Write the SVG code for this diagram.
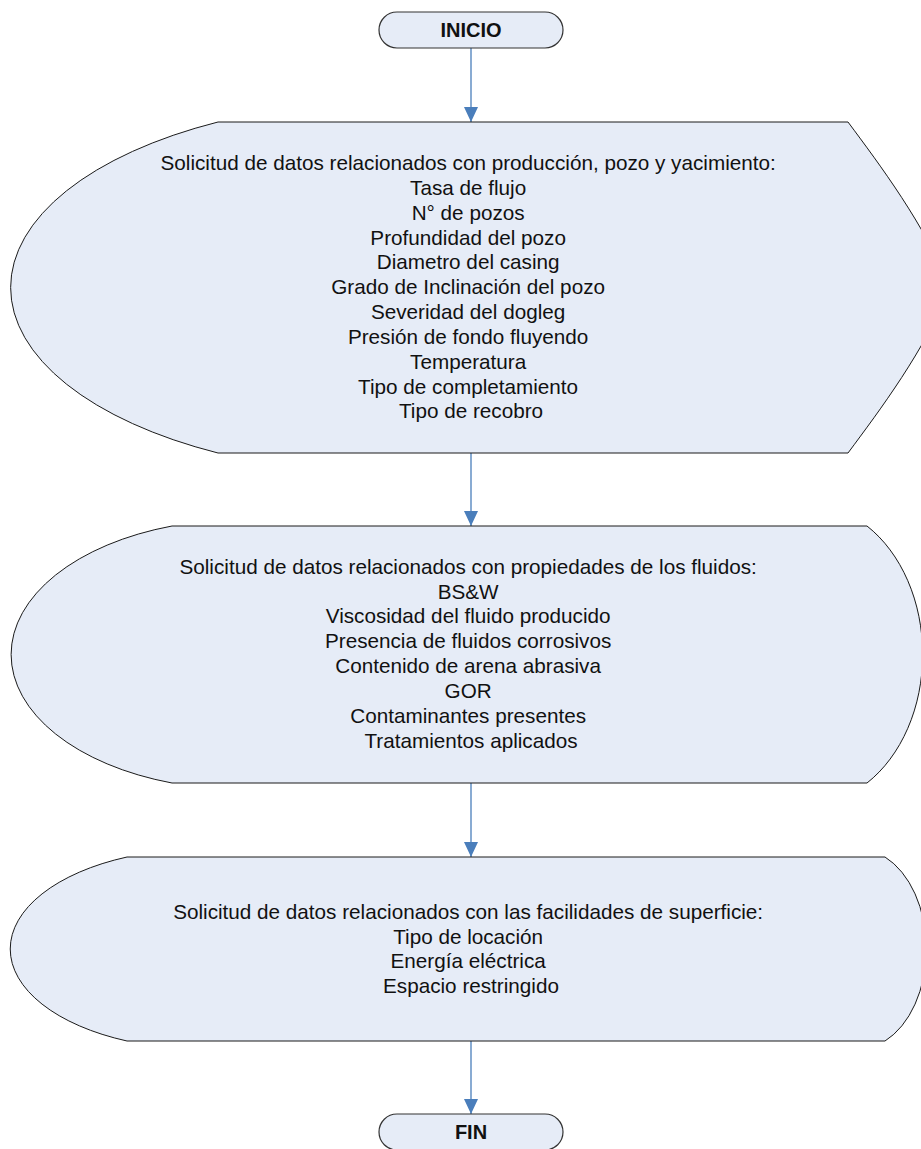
<svg xmlns="http://www.w3.org/2000/svg" width="921" height="1149" viewBox="0 0 921 1149">
<style>
.shape{fill:#e6ecf7;stroke:#1a1a1a;stroke-width:1}
.term{fill:#e6ecf7;stroke:#333;stroke-width:1.2}
.txt{font-family:"Liberation Sans",Arial,sans-serif;font-size:20.7px;fill:#111;text-anchor:middle}
.bold{font-family:"Liberation Sans",Arial,sans-serif;font-size:20px;font-weight:bold;fill:#111;text-anchor:middle}
.conn{stroke:#4a7ebb;stroke-width:1.3;fill:none;marker-end:url(#arr)}
</style>
<defs>
<marker id="arr" markerUnits="userSpaceOnUse" markerWidth="16" markerHeight="16" refX="15" refY="7" orient="auto">
<path d="M0,0 L15,7 L0,14 Z" fill="#4a7ebb"/>
</marker>
</defs>
<rect width="921" height="1149" fill="#fff"/>
<g id="connectors">
<line class="conn" x1="471" y1="48" x2="471" y2="122"/>
<line class="conn" x1="471" y1="453" x2="471" y2="526"/>
<line class="conn" x1="471" y1="783" x2="471" y2="857"/>
<line class="conn" x1="471" y1="1041" x2="471" y2="1114"/>
</g>
<g id="inicio">
<rect class="term" x="379" y="12" width="184" height="36" rx="18" ry="18"/>
<text class="bold" x="471" y="37">INICIO</text>
</g>
<g id="datos-produccion">
<path class="shape" d="M218,122 L848,122 C880,165 925,225 950,287.5 C925,350 880,410 848,453 L218,453 A388,187 0 0 1 218,122 Z"/>
<text class="txt" x="471" y="170">
<tspan x="471" y="170">Solicitud de datos relacionados con producción, pozo y yacimiento:</tspan>
<tspan x="471" y="194.84">Tasa de flujo</tspan>
<tspan x="471" y="219.68">N° de pozos</tspan>
<tspan x="471" y="244.52">Profundidad del pozo</tspan>
<tspan x="471" y="269.36">Diametro del casing</tspan>
<tspan x="471" y="294.2">Grado de Inclinación del pozo</tspan>
<tspan x="471" y="319.04">Severidad del dogleg</tspan>
<tspan x="471" y="343.88">Presión de fondo fluyendo</tspan>
<tspan x="471" y="368.72">Temperatura</tspan>
<tspan x="471" y="393.56">Tipo de completamiento</tspan>
<tspan x="471" y="418.4">Tipo de recobro</tspan>
</text>
</g>
<g id="datos-fluidos">
<path class="shape" d="M172,526 L867,526 A115,150 0 0 1 867,783 L172,783 A232,135 0 0 1 172,526 Z"/>
<text class="txt">
<tspan x="471" y="573.7">Solicitud de datos relacionados con propiedades de los fluidos:</tspan>
<tspan x="471" y="598.54">BS&amp;W</tspan>
<tspan x="471" y="623.38">Viscosidad del fluido producido</tspan>
<tspan x="471" y="648.22">Presencia de fluidos corrosivos</tspan>
<tspan x="471" y="673.06">Contenido de arena abrasiva</tspan>
<tspan x="471" y="697.9">GOR</tspan>
<tspan x="471" y="722.74">Contaminantes presentes</tspan>
<tspan x="471" y="747.58">Tratamientos aplicados</tspan>
</text>
</g>
<g id="datos-superficie">
<path class="shape" d="M127,857 L885,857 A68,100 0 0 1 885,1041 L127,1041 A192,100 0 0 1 127,857 Z"/>
<text class="txt">
<tspan x="471" y="918.8">Solicitud de datos relacionados con las facilidades de superficie:</tspan>
<tspan x="471" y="943.64">Tipo de locación</tspan>
<tspan x="471" y="968.48">Energía eléctrica</tspan>
<tspan x="471" y="993.32">Espacio restringido</tspan>
</text>
</g>
<g id="fin">
<rect class="term" x="379" y="1114" width="184" height="36" rx="18" ry="18"/>
<text class="bold" x="471" y="1139">FIN</text>
</g>
</svg>
